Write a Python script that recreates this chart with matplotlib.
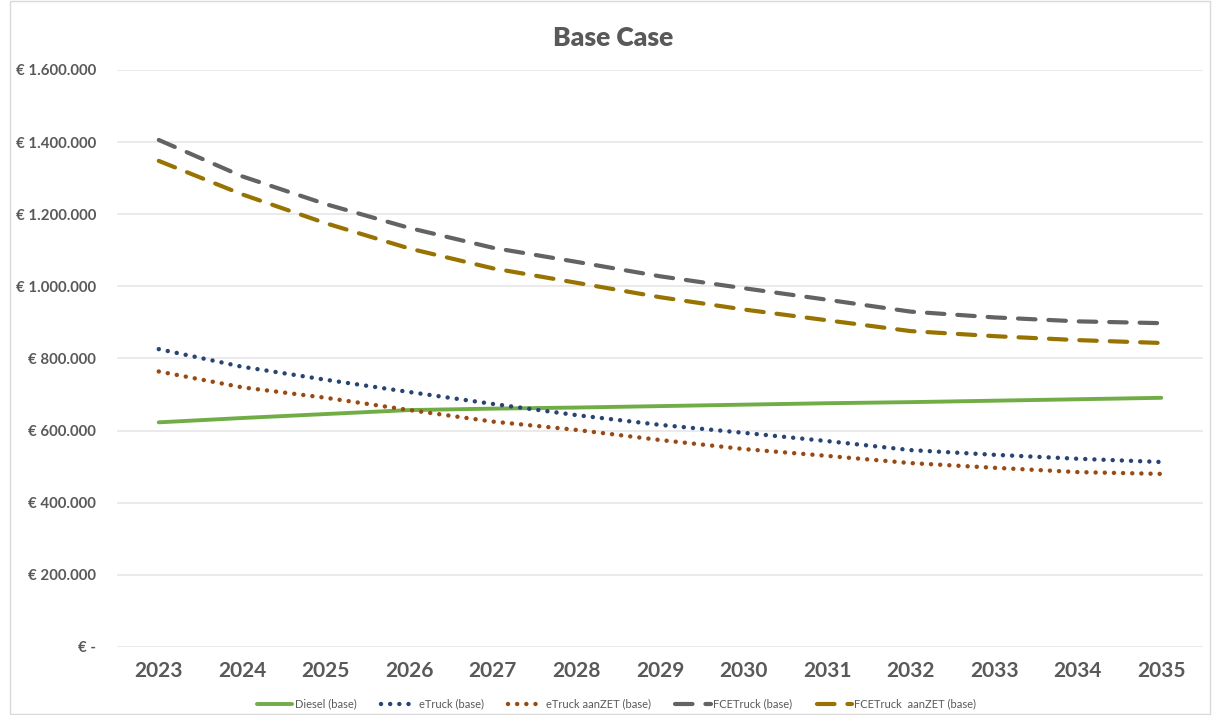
import matplotlib.pyplot as plt
from matplotlib.ticker import FuncFormatter, MultipleLocator
from matplotlib.patches import Rectangle

jaren = [2023, 2024, 2025, 2026, 2027, 2028, 2029, 2030, 2031, 2032, 2033, 2034, 2035]

diesel = [623000, 635000, 646000, 657000, 661000, 664000, 668000, 672000,
          676000, 679000, 683000, 687000, 691000]
etruck = [826000, 777000, 741000, 707000, 674000, 643000, 616000, 594000,
          571000, 546000, 533000, 522000, 513000]
etruck_zet = [764000, 720000, 691000, 657000, 625000, 602000, 574000, 549000,
              530000, 510000, 497000, 485000, 480000]
fce = [1406000, 1305000, 1228000, 1162000, 1107000, 1068000, 1028000, 995000,
       963000, 930000, 914000, 903000, 898000]
fce_zet = [1348000, 1255000, 1175000, 1105000, 1050000, 1010000, 970000, 936000,
           906000, 876000, 862000, 851000, 843000]

labels = ['Diesel (base)', 'eTruck (base)', 'eTruck aanZET (base)',
          'FCETruck (base)', 'FCETruck  aanZET (base)']

plt.rcParams['font.family'] = ['Lato', 'DejaVu Sans']
plt.rcParams['font.weight'] = 'bold'
tekst = '#595959'

fig = plt.figure(figsize=(12.14, 7.15), dpi=100)
ax = fig.add_axes([117 / 1214, 1 - 647 / 715, 1086 / 1214, 577 / 715])

x = list(range(len(jaren)))
ax.plot(x, diesel, color='#70AD47', lw=2.8, solid_capstyle='round', label=labels[0])
ax.plot(x, etruck, color='#264478', lw=3.2, linestyle=(0, (0.01, 2.05)),
        dash_capstyle='round', label=labels[1])
ax.plot(x, etruck_zet, color='#9E480E', lw=3.2, linestyle=(0, (0.01, 2.05)),
        dash_capstyle='round', label=labels[2])
ax.plot(x, fce, color='#636363', lw=3.0, linestyle=(0, (4.2, 3.1)),
        dash_capstyle='round', label=labels[3])
ax.plot(x, fce_zet, color='#997300', lw=3.0, linestyle=(0, (4.2, 3.1)),
        dash_capstyle='round', label=labels[4])

ax.set_xlim(-0.5, len(jaren) - 0.5)
ax.set_ylim(0, 1600000)
ax.yaxis.set_major_locator(MultipleLocator(200000))


def euro(v, pos):
    if v == 0:
        return '€ -'
    return '€ ' + f'{int(v):,}'.replace(',', '.')


ax.yaxis.set_major_formatter(FuncFormatter(euro))
ax.set_xticks(x)
ax.set_xticklabels([str(j) for j in jaren])
ax.grid(axis='y', color='#e6e6e6', lw=1.2)
ax.set_axisbelow(True)
for s in ax.spines.values():
    s.set_visible(False)
ax.tick_params(length=0)
ax.tick_params(axis='y', labelsize=10.8, labelcolor=tekst, pad=15)
ax.tick_params(axis='x', labelsize=15, labelcolor=tekst, pad=10)

fig.text(0.505, 1 - 38 / 715, 'Base Case', ha='center', va='center',
         fontsize=19, fontweight='heavy', color=tekst)

leg = fig.legend(loc='center', bbox_to_anchor=(0.508, 1 - 704 / 715), ncol=5,
                 frameon=False, prop={'size': 8, 'weight': 'normal'},
                 handlelength=3.2, columnspacing=2.2, handletextpad=0.2)
for t in leg.get_texts():
    t.set_color(tekst)

fig.patches.append(Rectangle((10 / 1214, 0.002), 1200 / 1214, 0.996,
                             transform=fig.transFigure, fill=False,
                             edgecolor='#d9d9d9', lw=1))

fig.savefig('out.png', dpi=100)
